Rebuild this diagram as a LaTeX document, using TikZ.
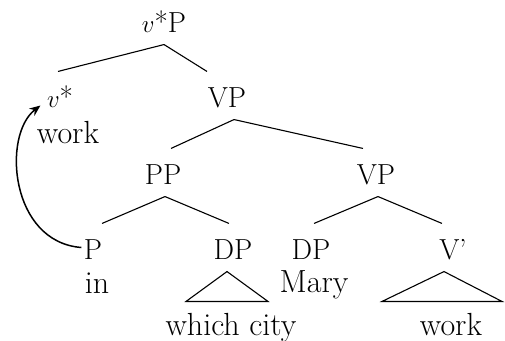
\documentclass[tikz,border=0pt]{standalone}
\usepackage{fontspec}
\usetikzlibrary{arrows.meta}

\begin{document}
\begin{tikzpicture}[x=1pt,y=-1pt,line width=1.1pt,
  cat/.style={anchor=base,inner sep=0pt,text height=35pt,text depth=12pt,
    font=\fontsize{29}{34}\selectfont},
  word/.style={anchor=base,inner sep=0pt,text height=33pt,text depth=6pt,
    font=\fontsize{32}{38}\selectfont}]
  \useasboundingbox (0,0) rectangle (505,340);

  % categories, one row per level
  \node[cat] (vP)    at (164,32)  {$v$*P};
  \node[cat] (vstar) at (60,107)  {$v$*};
  \node[cat] (VPa)   at (227,107) {VP};
  \node[cat] (PP)    at (163,184) {PP};
  \node[cat] (VPb)   at (376,184) {VP};
  \node[cat] (Pa)    at (93,259)  {P};
  \node[cat] (DPa)   at (233,259) {DP};
  \node[cat] (DPb)   at (311,259) {DP};
  \node[cat] (Vbar)  at (453,259) {V’};

  % words
  \node[word] (vwork) at (68,143)  {work};
  \node[word] (in)    at (97,293)  {in};
  \node[word] (Mary)  at (314,292) {Mary};
  \node[word] (city)  at (231,335) {which city};
  \node[word] (work)  at (451,335) {work};

  % branches
  \draw (vP.south) -- ([xshift=-2pt]vstar.north);
  \draw (vP.south) -- ([xshift=-20pt]VPa.north);
  \draw ([xshift=7pt]VPa.south) -- ([xshift=8pt]PP.north);
  \draw ([xshift=7pt]VPa.south) -- ([xshift=-13pt]VPb.north);
  \draw ([xshift=2pt]PP.south) -- ([xshift=9pt]Pa.north);
  \draw ([xshift=2pt]PP.south) -- ([xshift=-4pt]DPa.north);
  \draw ([xshift=2pt]VPb.south) -- ([xshift=3pt]DPb.north);
  \draw ([xshift=2pt]VPb.south) -- ([xshift=-11pt]Vbar.north);

  % roofs
  \draw ([xshift=-6pt]DPa.south) -- ([xshift=-45pt]city.north)
    -- ([xshift=37pt]city.north) -- cycle;
  \draw ([xshift=-9pt]Vbar.south) -- ([xshift=-69pt]work.north)
    -- ([xshift=51pt]work.north) -- cycle;

  % movement
  \draw[line width=1.5pt,-{Stealth[length=11pt,width=9pt]}]
    ([xshift=-2pt]Pa.west) .. controls (10,242) and (2,135)
    .. ([shift={(-6pt,-10pt)}]vstar.west);

\end{tikzpicture}
\end{document}
